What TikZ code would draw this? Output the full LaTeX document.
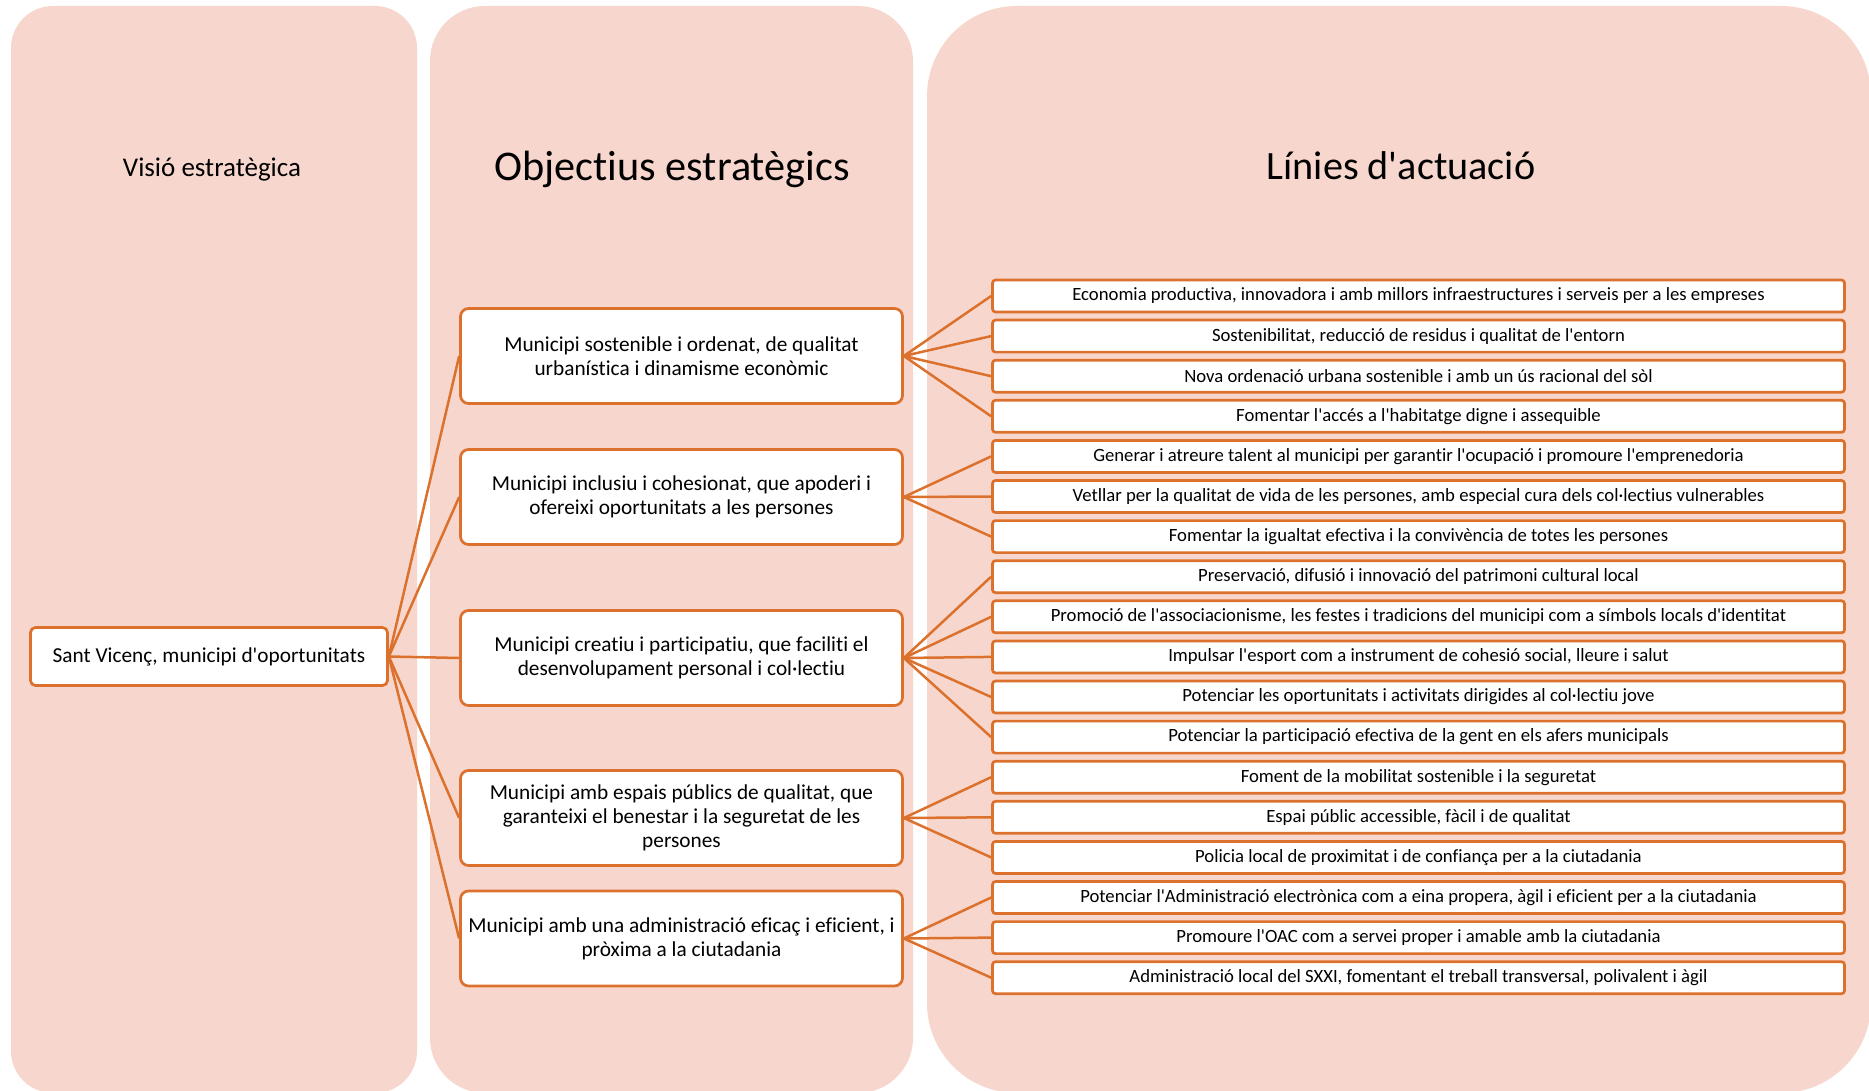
\documentclass[tikz,border=0pt]{standalone}
\usepackage{fontspec}
\setmainfont{Carlito}[Ligatures={TeXOff,NoCommon}]
\definecolor{bandpink}{RGB}{247,215,205}
\definecolor{boxorange}{RGB}{220,113,45}

\begin{document}
\begin{tikzpicture}[
  x=1pt, y=-1pt,
  band/.style={fill=bandpink, draw=none},
  title/.style={font=\fontsize{27}{32}\selectfont, inner sep=0pt, anchor=base},
  bigtitle/.style={font=\fontsize{42.3}{48}\selectfont, inner sep=0pt, anchor=base},
  visio/.style={draw=boxorange, line width=2.7pt, fill=white, rounded corners=5pt,
    minimum width=357pt, minimum height=58pt, inner sep=0pt,
    font=\fontsize{21.3}{24}\selectfont},
  objectiu/.style={draw=boxorange, line width=2.7pt, fill=white, rounded corners=8pt,
    minimum width=442pt, minimum height=95pt, inner sep=0pt, align=center,
    font=\fontsize{21.3}{24}\selectfont},
  linia/.style={draw=boxorange, line width=2.7pt, fill=white, rounded corners=3pt,
    minimum width=852pt, minimum height=32pt, inner sep=0pt,
    font=\fontsize{18.7}{22}\selectfont},
  conn/.style={draw=boxorange, line width=2.5pt}
]
  \clip (0,0) rectangle (1869,1091);
  \fill[white] (0,0) rectangle (1869,1091);
  \path[band, rounded corners=42pt] (11,6) rectangle (417,1093);
  \path[band, rounded corners=55pt] (430,6) rectangle (913,1093);
  \path[band, rounded corners=90pt] (927,6) rectangle (1871,1093);

  \node[title] (tvisio) at (212,177) {Visió estratègica};
  \node[bigtitle] (tobj) at (672,181) {Objectius estratègics};
  \node[bigtitle, font=\fontsize{40.2}{46}\selectfont] (tlin) at (1401,180) {Línies d'actuació};

  \node[visio] (sv) at (209,656.5) {Sant Vicenç, municipi d'oportunitats};

  \node[objectiu] (o1) at (681.5,356) {Municipi sostenible i ordenat, de qualitat\\urbanística i dinamisme econòmic};
  \node[objectiu] (o2) at (681.5,497) {Municipi inclusiu i cohesionat, que apoderi i\\ofereixi oportunitats a les persones};
  \node[objectiu] (o3) at (681.5,658) {Municipi creatiu i participatiu, que faciliti el\\desenvolupament personal i col·lectiu};
  \node[objectiu] (o4) at (681.5,818) {Municipi amb espais públics de qualitat, que\\garanteixi el benestar i la seguretat de les\\persones};
  \node[objectiu] (o5) at (681.5,938.5) {Municipi amb una administració eficaç i eficient, i\\pròxima a la ciutadania};

  \foreach \t [count=\i from 0] in {
    {Economia productiva, innovadora i amb millors infraestructures i serveis per a les empreses},
    {Sostenibilitat, reducció de residus i qualitat de l'entorn},
    {Nova ordenació urbana sostenible i amb un ús racional del sòl},
    {Fomentar l'accés a l'habitatge digne i assequible},
    {Generar i atreure talent al municipi per garantir l'ocupació i promoure l'emprenedoria},
    {Vetllar per la qualitat de vida de les persones, amb especial cura dels col·lectius vulnerables},
    {Fomentar la igualtat efectiva i la convivència de totes les persones},
    {Preservació, difusió i innovació del patrimoni cultural local},
    {Promoció de l'associacionisme, les festes i tradicions del municipi com a símbols locals d'identitat},
    {Impulsar l'esport com a instrument de cohesió social, lleure i salut},
    {Potenciar les oportunitats i activitats dirigides al col·lectiu jove},
    {Potenciar la participació efectiva de la gent en els afers municipals},
    {Foment de la mobilitat sostenible i la seguretat},
    {Espai públic accessible, fàcil i de qualitat},
    {Policia local de proximitat i de confiança per a la ciutadania},
    {Potenciar l'Administració electrònica com a eina propera, àgil i eficient per a la ciutadania},
    {Promoure l'OAC com a servei proper i amable amb la ciutadania},
    {Administració local del SXXI, fomentant el treball transversal, polivalent i àgil}}
    \node[linia] (l\i) at (1418.5,{296+40.1*\i}) {\t};

  \foreach \o in {1,...,5}
    \draw[conn] (sv.east) -- (o\o.west);
  \foreach \o/\a/\b in {1/0/3, 2/4/6, 3/7/11, 4/12/14, 5/15/17}
    \foreach \j in {\a,...,\b}
      \draw[conn] (o\o.east) -- (l\j.west);
\end{tikzpicture}
\end{document}
